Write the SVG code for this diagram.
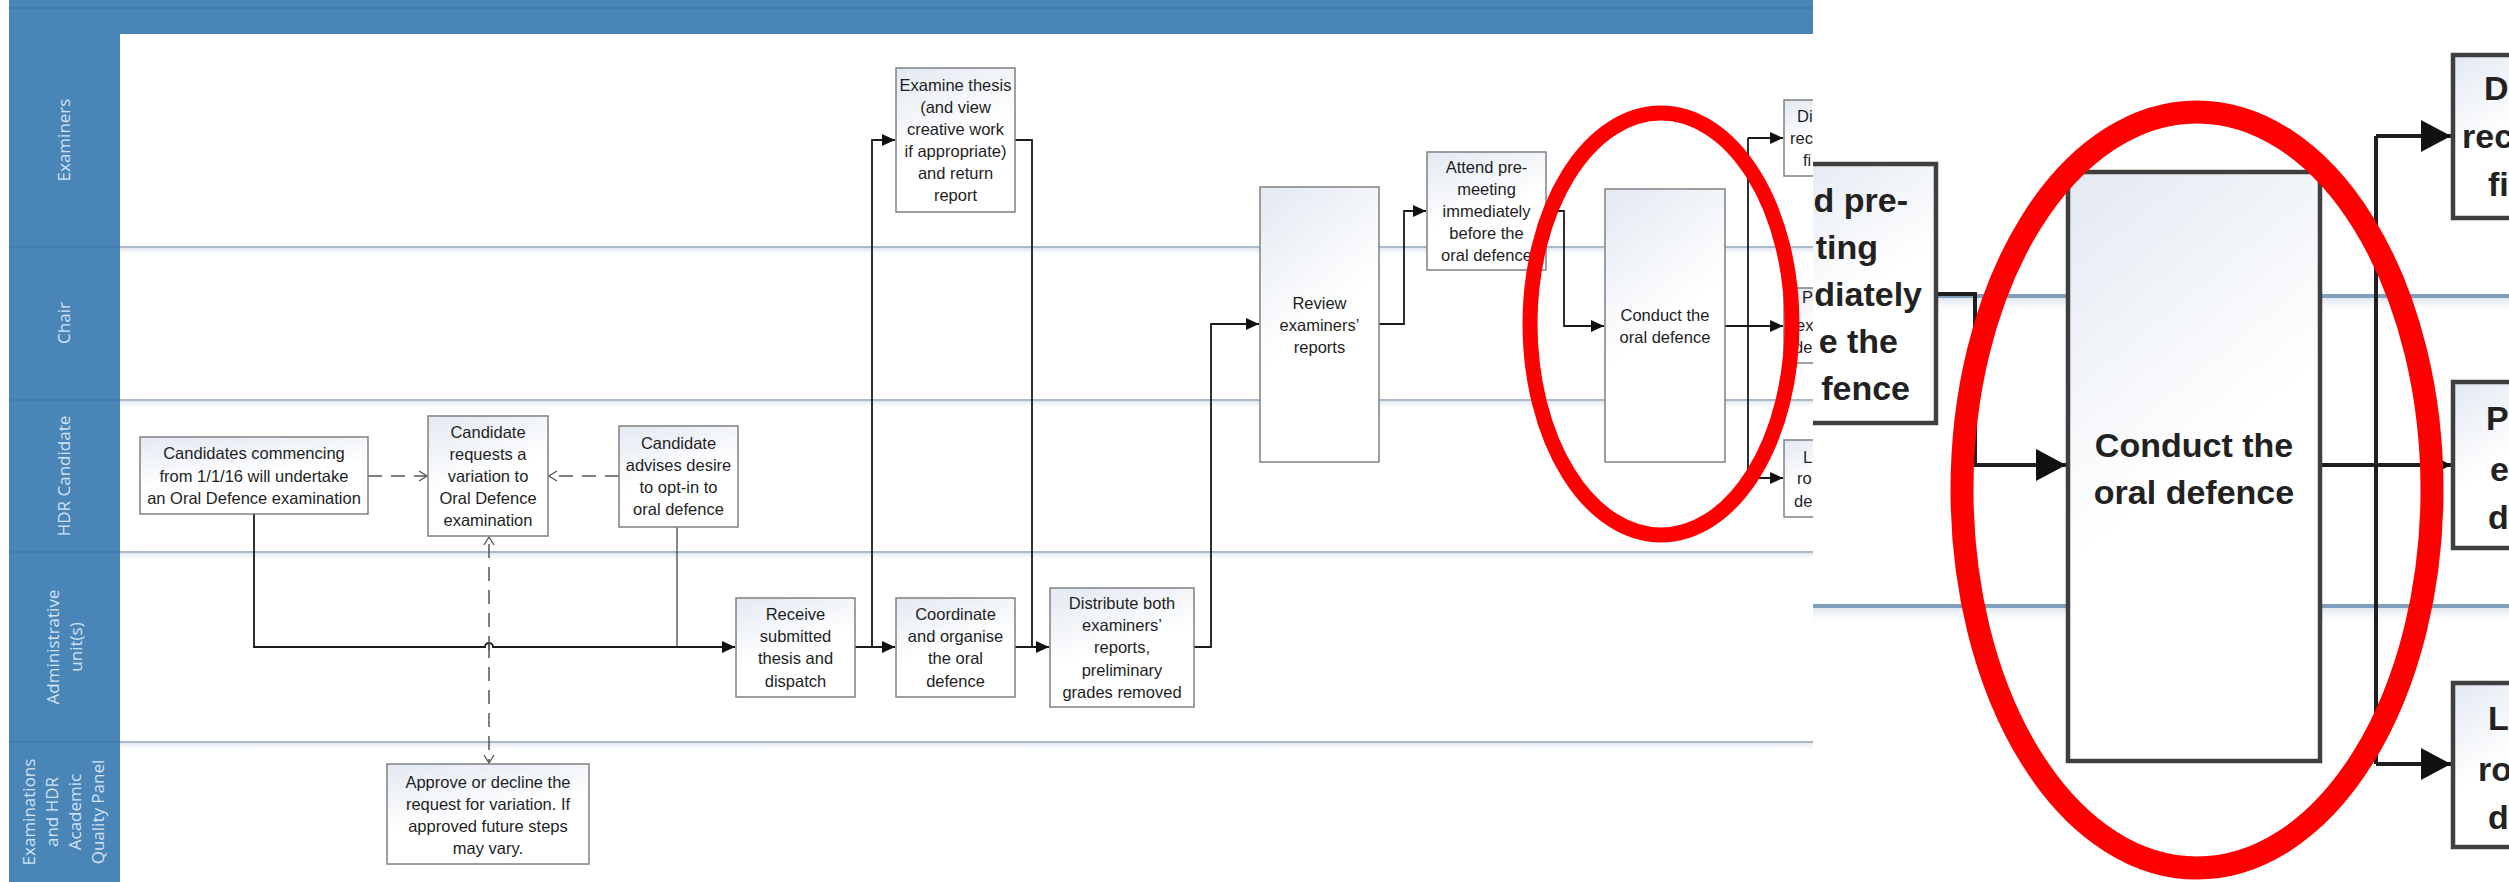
<svg xmlns="http://www.w3.org/2000/svg" width="2509" height="882" viewBox="0 0 2509 882">
<style>
.lane{fill:#4a85b8}
.lbl{font-family:"Open Sans","DejaVu Sans",sans-serif;font-size:17px;fill:#d3e2f0;text-anchor:middle}
.box{fill:url(#boxg);stroke:#808080;stroke-width:1.5}
.t{font-family:"Liberation Sans",Arial,sans-serif;font-size:16.5px;fill:#1e1e1e;text-anchor:middle}
.ts{font-family:"Liberation Sans",Arial,sans-serif;font-size:16.5px;fill:#1e1e1e}
.sep{stroke:#a9b9c9;stroke-width:2}
.con{fill:none;stroke:#1a1a1a;stroke-width:1.8}
.thin{fill:none;stroke:#3a3a3a;stroke-width:1.2}
.dash{fill:none;stroke:#555;stroke-width:1.5;stroke-dasharray:14 9}
.ring{fill:none;stroke:#ff0000}
.ibox{fill:url(#boxg);stroke:#3f3f3f;stroke-width:4.5}
.it{font-family:"Liberation Sans",Arial,sans-serif;font-size:34px;font-weight:bold;fill:#222}
.icon{fill:none;stroke:#1f1f1f;stroke-width:4}
.isep{stroke:#7f9fbf;stroke-width:4}
</style>
<defs>
<linearGradient id="boxg" x1="0" y1="0" x2="0.35" y2="1">
<stop offset="0" stop-color="#e3e9f2"/>
<stop offset="0.6" stop-color="#ffffff"/>
<stop offset="1" stop-color="#ffffff"/>
</linearGradient>
<linearGradient id="shade" x1="0" y1="0" x2="0" y2="1">
<stop offset="0" stop-color="#dfe7ef"/>
<stop offset="1" stop-color="#ffffff" stop-opacity="0"/>
</linearGradient>
<marker id="arr" markerUnits="userSpaceOnUse" markerWidth="13" markerHeight="12" refX="13" refY="6" orient="auto">
<path d="M0,0 L13,6 L0,12 z" fill="#111"/>
</marker>
<marker id="open" markerUnits="userSpaceOnUse" markerWidth="10" markerHeight="12" refX="9" refY="6" orient="auto">
<path d="M1,1 L9,6 L1,11" fill="none" stroke="#555" stroke-width="1.3"/>
</marker>
<marker id="iarr" markerUnits="userSpaceOnUse" markerWidth="30" markerHeight="32" refX="30" refY="16" orient="auto">
<path d="M0,0 L30,16 L0,32 z" fill="#111"/>
</marker>
<clipPath id="mainclip"><rect x="0" y="0" width="1813" height="882"/></clipPath>
<clipPath id="insetclip"><rect x="1813" y="0" width="696" height="882"/></clipPath>
</defs>

<rect x="0" y="0" width="2509" height="882" fill="#ffffff"/>

<g id="main" clip-path="url(#mainclip)">
<g id="swimlanes">
<rect class="lane" x="9" y="0" width="1804" height="34"/>
<line x1="9" y1="8" x2="1813" y2="8" stroke="#3f79ab" stroke-width="1.5"/>
<rect class="lane" x="9" y="34" width="111" height="848"/>
<g stroke="#3f78aa" stroke-width="1.2">
<line x1="9" y1="247" x2="120" y2="247"/>
<line x1="9" y1="400" x2="120" y2="400"/>
<line x1="9" y1="552" x2="120" y2="552"/>
<line x1="9" y1="742" x2="120" y2="742"/>
</g>
<rect x="120" y="248" width="1693" height="9" fill="url(#shade)"/>
<rect x="120" y="401" width="1693" height="9" fill="url(#shade)"/>
<rect x="120" y="553" width="1693" height="9" fill="url(#shade)"/>
<rect x="120" y="743" width="1693" height="9" fill="url(#shade)"/>
<line class="sep" x1="120" y1="247" x2="1813" y2="247"/>
<line class="sep" x1="120" y1="400" x2="1813" y2="400"/>
<line class="sep" x1="120" y1="552" x2="1813" y2="552"/>
<line class="sep" x1="120" y1="742" x2="1813" y2="742"/>
<text class="lbl" transform="translate(64,140) rotate(-90)" y="6">Examiners</text>
<text class="lbl" transform="translate(64,323) rotate(-90)" y="6">Chair</text>
<text class="lbl" transform="translate(64,476) rotate(-90)" y="6">HDR Candidate</text>
<text class="lbl" transform="translate(64,647) rotate(-90)"><tspan x="0" y="-5">Administrative</tspan><tspan x="0" y="18">unit(s)</tspan></text>
<text class="lbl" transform="translate(64,812) rotate(-90)"><tspan x="0" y="-29">Examinations</tspan><tspan x="0" y="-6">and HDR</tspan><tspan x="0" y="17">Academic</tspan><tspan x="0" y="40">Quality Panel</tspan></text>
</g>

<g id="connectors">
<path class="con" d="M254,514 V647 H485 A4,4 0 0 1 493,647 H735" marker-end="url(#arr)"/>
<path class="thin" d="M677,527 V647"/>
<path class="dash" d="M368,476 H427" marker-end="url(#open)"/>
<path class="dash" d="M619,476 H549" marker-end="url(#open)"/>
<path class="dash" d="M489,650 V537" marker-end="url(#open)"/>
<path class="dash" d="M489,644 V763" marker-end="url(#open)"/>
<path class="con" d="M855,647 H895" marker-end="url(#arr)"/>
<path class="con" d="M872,647 V140 H895" marker-end="url(#arr)"/>
<path class="con" d="M1015,647 H1049" marker-end="url(#arr)"/>
<path class="con" d="M1015,140 H1032 V647"/>
<path class="con" d="M1194,647 H1211 V324 H1259" marker-end="url(#arr)"/>
<path class="con" d="M1379,324 H1404 V211 H1426" marker-end="url(#arr)"/>
<path class="con" d="M1546,211 H1564 V326 H1604" marker-end="url(#arr)"/>
<path class="con" d="M1725,326 H1783" marker-end="url(#arr)"/>
<path class="con" d="M1748,138 V478"/>
<path class="con" d="M1748,138 H1783" marker-end="url(#arr)"/>
<path class="con" d="M1748,478 H1783" marker-end="url(#arr)"/>
</g>

<g id="n-commencing">
<rect class="box" x="140" y="437" width="228" height="77"/>
<text class="t"><tspan x="254" y="459">Candidates commencing</tspan><tspan x="254" y="481.5">from 1/1/16 will undertake</tspan><tspan x="254" y="504">an Oral Defence examination</tspan></text>
</g>
<g id="n-variation">
<rect class="box" x="428" y="416" width="120" height="120"/>
<text class="t"><tspan x="488" y="438">Candidate</tspan><tspan x="488" y="460">requests a</tspan><tspan x="488" y="482">variation to</tspan><tspan x="488" y="504">Oral Defence</tspan><tspan x="488" y="526">examination</tspan></text>
</g>
<g id="n-optin">
<rect class="box" x="619" y="426" width="119" height="101"/>
<text class="t"><tspan x="678.5" y="449">Candidate</tspan><tspan x="678.5" y="471">advises desire</tspan><tspan x="678.5" y="493">to opt-in to</tspan><tspan x="678.5" y="515">oral defence</tspan></text>
</g>
<g id="n-approve">
<rect class="box" x="387" y="764" width="202" height="100"/>
<text class="t"><tspan x="488" y="788">Approve or decline the</tspan><tspan x="488" y="810">request for variation.  If</tspan><tspan x="488" y="832">approved future steps</tspan><tspan x="488" y="854">may vary.</tspan></text>
</g>
<g id="n-receive">
<rect class="box" x="736" y="598" width="119" height="99"/>
<text class="t"><tspan x="795.5" y="620">Receive</tspan><tspan x="795.5" y="642">submitted</tspan><tspan x="795.5" y="664">thesis and</tspan><tspan x="795.5" y="687">dispatch</tspan></text>
</g>
<g id="n-coordinate">
<rect class="box" x="896" y="598" width="119" height="99"/>
<text class="t"><tspan x="955.5" y="620">Coordinate</tspan><tspan x="955.5" y="642">and organise</tspan><tspan x="955.5" y="664">the oral</tspan><tspan x="955.5" y="687">defence</tspan></text>
</g>
<g id="n-distribute">
<rect class="box" x="1050" y="588" width="144" height="119"/>
<text class="t"><tspan x="1122" y="609">Distribute both</tspan><tspan x="1122" y="631">examiners’</tspan><tspan x="1122" y="653">reports,</tspan><tspan x="1122" y="676">preliminary</tspan><tspan x="1122" y="698">grades removed</tspan></text>
</g>
<g id="n-examine">
<rect class="box" x="896" y="68" width="119" height="144"/>
<text class="t"><tspan x="955.5" y="91">Examine thesis</tspan><tspan x="955.5" y="113">(and view</tspan><tspan x="955.5" y="135">creative work</tspan><tspan x="955.5" y="157">if appropriate)</tspan><tspan x="955.5" y="179">and return</tspan><tspan x="955.5" y="201">report</tspan></text>
</g>
<g id="n-review">
<rect class="box" x="1260" y="187" width="119" height="275"/>
<text class="t"><tspan x="1319.5" y="309">Review</tspan><tspan x="1319.5" y="331">examiners’</tspan><tspan x="1319.5" y="353">reports</tspan></text>
</g>
<g id="n-attend">
<rect class="box" x="1427" y="152" width="119" height="118"/>
<text class="t"><tspan x="1486.5" y="173">Attend pre-</tspan><tspan x="1486.5" y="195">meeting</tspan><tspan x="1486.5" y="217">immediately</tspan><tspan x="1486.5" y="239">before the</tspan><tspan x="1486.5" y="261">oral defence</tspan></text>
</g>
<g id="n-conduct">
<rect class="box" x="1605" y="189" width="120" height="273"/>
<text class="t"><tspan x="1665" y="321">Conduct the</tspan><tspan x="1665" y="343">oral defence</tspan></text>
</g>
<g id="n-cut-top">
<rect class="box" x="1784" y="100" width="60" height="76"/>
<text class="ts"><tspan x="1797" y="122">Di</tspan><tspan x="1790" y="144">rec</tspan><tspan x="1803" y="166">fi</tspan></text>
</g>
<g id="n-cut-mid">
<rect class="box" x="1784" y="288" width="60" height="75"/>
<text class="ts"><tspan x="1802" y="303">P</tspan><tspan x="1796" y="331">ex</tspan><tspan x="1794" y="353">de</tspan></text>
</g>
<g id="n-cut-bot">
<rect class="box" x="1784" y="440" width="60" height="77"/>
<text class="ts"><tspan x="1803" y="463">L</tspan><tspan x="1797" y="484">ro</tspan><tspan x="1794" y="507">de</tspan></text>
</g>
<ellipse id="highlight-main" class="ring" cx="1661" cy="324" rx="131" ry="211" stroke-width="15"/>
</g>

<g id="inset" clip-path="url(#insetclip)">
<rect x="1813" y="0" width="696" height="882" fill="#ffffff"/>
<rect x="1813" y="298" width="696" height="16" fill="url(#shade)"/>
<rect x="1813" y="608" width="696" height="16" fill="url(#shade)"/>
<line class="isep" x1="1813" y1="296" x2="2509" y2="296"/>
<line class="isep" x1="1813" y1="606" x2="2509" y2="606"/>
<g id="inset-connectors">
<path class="icon" d="M1936,294 H1975 V465 H2066" marker-end="url(#iarr)"/>
<path class="icon" d="M2320,465 H2451" marker-end="url(#iarr)"/>
<path class="icon" d="M2376,136 V764"/>
<path class="icon" d="M2376,136 H2451" marker-end="url(#iarr)"/>
<path class="icon" d="M2376,764 H2451" marker-end="url(#iarr)"/>
</g>
<g id="i-attend">
<rect class="ibox" x="1780" y="164" width="156" height="259"/>
<text class="it" text-anchor="end"><tspan x="1908" y="212">d pre-</tspan><tspan x="1878" y="259">ting</tspan><tspan x="1922" y="306">diately</tspan><tspan x="1898" y="353">e the</tspan><tspan x="1910" y="400">fence</tspan></text>
</g>
<g id="i-conduct">
<rect class="ibox" x="2068" y="172" width="252" height="589"/>
<text class="it" text-anchor="middle"><tspan x="2194" y="457">Conduct the</tspan><tspan x="2194" y="504">oral defence</tspan></text>
</g>
<g id="i-top">
<rect class="ibox" x="2453" y="55" width="90" height="163"/>
<text class="it"><tspan x="2484" y="100">D</tspan><tspan x="2462" y="148">rec</tspan><tspan x="2488" y="196">fi</tspan></text>
</g>
<g id="i-mid">
<rect class="ibox" x="2453" y="382" width="90" height="166"/>
<text class="it"><tspan x="2486" y="430">P</tspan><tspan x="2490" y="481">e</tspan><tspan x="2488" y="529">d</tspan></text>
</g>
<g id="i-bot">
<rect class="ibox" x="2453" y="683" width="90" height="164"/>
<text class="it"><tspan x="2488" y="730">L</tspan><tspan x="2478" y="781">ro</tspan><tspan x="2488" y="829">d</tspan></text>
</g>
<ellipse id="highlight-inset" class="ring" cx="2197" cy="490" rx="235" ry="378" stroke-width="23"/>
</g>
</svg>
